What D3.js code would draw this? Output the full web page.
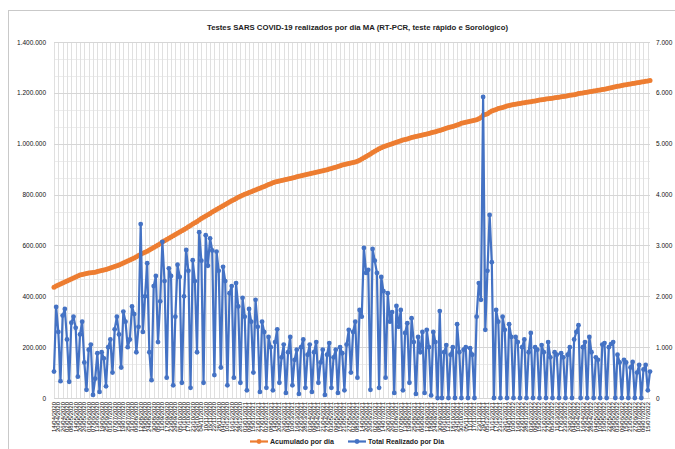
<!DOCTYPE html>
<html>
<head>
<meta charset="utf-8">
<script src="https://cdn.jsdelivr.net/npm/d3@7"></script>
<style>
  body { margin: 0; background: #fff; }
  svg { display: block; font-family: "Liberation Sans", Arial, sans-serif; }
</style>
</head>
<body>
<div id="chart"></div>
<script>
// ---- data ----
// daily tests (right axis)
var totalDia = [
  520, 1790, 1300, 330, 1620, 1750, 1150, 320, 1480, 1600,
  1380, 420, 1250, 1500, 700, 160, 950, 1050, 60, 380,
  880, 120, 900, 780, 230, 1000, 1150, 500, 1350, 1600,
  1250, 600, 1700, 1500, 1000, 1150, 1800, 1650, 900, 1400,
  3420, 1300, 2000, 2650, 900, 350, 2200, 2400, 1100, 1900,
  3070, 2300, 400, 2550, 2400, 250, 1600, 2620, 2380, 300,
  2000, 2910, 2500, 200, 2710, 2300, 900, 3260, 2700, 300,
  3200, 2600, 3140, 2900, 450, 2880, 2500, 600, 2580, 2300,
  250, 2060, 2200, 400, 2260, 1800, 300, 1970, 1600, 150,
  1750, 1500, 500, 1930, 1400, 120, 1500, 1300, 200, 1200,
  1000, 150, 1100, 1350, 300, 800, 1050, 100, 900, 1200,
  250, 750, 950, 80, 1000, 1150, 200, 850, 1050, 120,
  900, 1100, 300, 700, 950, 60, 850, 1080, 200, 800,
  950, 100, 1000, 880, 150, 1050, 1340, 500, 1300, 1500,
  400, 1730, 1600, 2950, 2460, 2520, 160, 2930, 2700, 2460,
  200, 2380, 2100, 400, 2060, 1500, 1690, 100, 1810, 1400,
  1730, 150, 1280, 1470, 300, 1570, 1100, 80, 1200, 900,
  1300, 100, 1340, 1000, 50, 1300, 1100, 0, 1710, 0,
  900, 1040, 0, 850, 1000, 0, 1450, 900, 0, 950,
  1000, 0, 980, 850, 0, 1600, 2260, 1930, 5920, 1340,
  2500, 3600, 2670, 0, 1730, 1500, 0, 1600, 1340, 0,
  1450, 1200, 0, 1200, 1100, 0, 1000, 1150, 0, 900,
  1280, 0, 1000, 950, 0, 1040, 900, 0, 1100, 800,
  0, 900, 850, 0, 880, 800, 0, 850, 1000, 0,
  1150, 1300, 1430, 0, 1000, 1100, 0, 1200, 900, 0,
  800, 750, 0, 1050, 1080, 0, 1000, 1060, 1100, 0,
  850, 700, 0, 750, 700, 0, 600, 710, 0, 500,
  650, 0, 560, 650, 150, 520
];

// cumulative tests, in thousands (left axis)
var acumuladoMil = [
  436, 440, 444, 448, 452, 456, 460, 464, 468, 472,
  476, 480, 484, 486, 488, 490, 492, 493, 494, 495,
  497, 499, 501, 503, 505, 508, 511, 514, 517, 520,
  523, 527, 531, 535, 539, 543, 547, 551, 555, 560,
  565, 569, 573, 577, 582, 587, 592, 597, 602, 607,
  613, 618, 623, 628, 633, 638, 643, 648, 653, 658,
  663, 668, 673, 678, 684, 689, 694, 700, 706, 711,
  716, 721, 726, 731, 736, 741, 746, 751, 756, 761,
  766, 771, 776, 780, 785, 789, 793, 797, 801, 804,
  808, 811, 815, 818, 822, 825, 829, 832, 836, 840,
  843, 846, 849, 851, 853, 855, 857, 859, 861, 863,
  865, 867, 870, 872, 874, 876, 878, 880, 882, 884,
  886, 888, 890, 892, 894, 896, 898, 901, 903, 905,
  907, 910, 913, 916, 918, 920, 922, 924, 926, 928,
  931, 935, 940, 945, 950, 955, 960, 965, 970, 975,
  980, 984, 988, 991, 994, 997, 1000, 1003, 1006, 1009,
  1012, 1015, 1017, 1019, 1021, 1024, 1026, 1028, 1030, 1032,
  1034, 1036, 1038, 1040, 1043, 1045, 1047, 1050, 1052, 1055,
  1058, 1061, 1064, 1066, 1068, 1071, 1074, 1077, 1080, 1082,
  1084, 1086, 1088, 1090, 1092, 1094, 1098, 1103, 1112, 1115,
  1118, 1124, 1129, 1132, 1135, 1138, 1140, 1142, 1145, 1148,
  1150, 1152, 1154, 1155, 1157, 1158, 1160, 1161, 1163, 1164,
  1165, 1167, 1168, 1170, 1172, 1173, 1174, 1176, 1177, 1178,
  1179, 1181, 1182, 1183, 1185, 1186, 1187, 1189, 1191, 1192,
  1193, 1195, 1197, 1198, 1199, 1201, 1202, 1204, 1205, 1207,
  1208, 1210, 1211, 1213, 1214, 1216, 1218, 1220, 1222, 1224,
  1226, 1227, 1229, 1231, 1232, 1234, 1235, 1237, 1238, 1240,
  1241, 1243, 1244, 1246, 1247, 1249
];

var leftTicks = [0, 200000, 400000, 600000, 800000, 1000000, 1200000, 1400000];
var rightTicks = [0, 1000, 2000, 3000, 4000, 5000, 6000, 7000];
var seriesNames = ["Acumulado por dia", "Total Realizado por Dia"];
var title = "Testes SARS COVID-19 realizados por dia MA (RT-PCR, teste rápido e Sorológico)";

// category labels: dates
var startDate = new Date(2020, 3, 14);
var stepDays = 3;
var n = Math.min(totalDia.length, acumuladoMil.length);
var fmtDate = d3.timeFormat("%d/%m/%Y");
var categories = d3.range(n).map(function(i) {
  return fmtDate(d3.timeDay.offset(startDate, i * stepDays));
});

// ---- layout ----
var svgWidth = 675, svgHeight = 449;
var plot = { left: 54, right: 650, top: 42, bottom: 398 };
var orange = "#ED7D31", blue = "#4472C4";

var svg = d3.select("#chart").append("svg")
  .attr("width", svgWidth)
  .attr("height", svgHeight);

// chart frame (continues past the window on the right/bottom)
svg.append("rect")
  .attr("x", 8.5).attr("y", 10.5)
  .attr("width", 720).attr("height", 480)
  .attr("fill", "#fff")
  .attr("stroke", "#c9c9c9");

var x = d3.scalePoint().domain(categories).range([plot.left, plot.right]);
var yLeft = d3.scaleLinear().domain([0, 1400000]).range([plot.bottom, plot.top]);
var yRight = d3.scaleLinear().domain([0, 7000]).range([plot.bottom, plot.top]);

var locale = d3.formatLocale({ decimal: ",", thousands: ".", grouping: [3], currency: ["R$", ""] });
var fmtNum = locale.format(",d");

// gridlines
var grid = svg.append("g");
var minorVals = d3.range(0, 1400001, 200000 / 3);
grid.selectAll("line.minor").data(minorVals).enter().append("line")
  .attr("x1", plot.left).attr("x2", plot.right)
  .attr("y1", function(d) { return Math.round(yLeft(d)) + 0.5; })
  .attr("y2", function(d) { return Math.round(yLeft(d)) + 0.5; })
  .attr("stroke", "#ececec").attr("stroke-width", 1);

grid.selectAll("line.v").data(categories.filter(function(d, i) { return i % 2 === 0; }))
  .enter().append("line")
  .attr("x1", function(d) { return Math.round(x(d)) + 0.5; })
  .attr("x2", function(d) { return Math.round(x(d)) + 0.5; })
  .attr("y1", plot.top).attr("y2", plot.bottom)
  .attr("stroke", "#e0e0e0").attr("stroke-width", 1);

grid.selectAll("line.major").data(leftTicks).enter().append("line")
  .attr("x1", plot.left).attr("x2", plot.right)
  .attr("y1", function(d) { return Math.round(yLeft(d)) + 0.5; })
  .attr("y2", function(d) { return Math.round(yLeft(d)) + 0.5; })
  .attr("stroke", "#d6d6d6").attr("stroke-width", 1);

// axes (labels only, like the original)
var leftAxis = d3.axisLeft(yLeft).tickValues(leftTicks).tickFormat(fmtNum).tickSize(0).tickPadding(8);
var gl = svg.append("g").attr("transform", "translate(" + plot.left + ",0)").call(leftAxis);
gl.select(".domain").remove();
gl.selectAll("text").attr("font-size", "6.5px").attr("fill", "#111").attr("font-family", "Liberation Sans, Arial");

var rightAxis = d3.axisRight(yRight).tickValues(rightTicks).tickFormat(fmtNum).tickSize(0).tickPadding(6);
var gr = svg.append("g").attr("transform", "translate(" + plot.right + ",0)").call(rightAxis);
gr.select(".domain").remove();
gr.selectAll("text").attr("font-size", "6.5px").attr("fill", "#111").attr("font-family", "Liberation Sans, Arial");

// x labels (dense rotated dates, every second category)
svg.append("g").selectAll("text")
  .data(categories.filter(function(d, i) { return i % 2 === 0; }))
  .enter().append("text")
  .attr("transform", function(d) { return "translate(" + (x(d) + 2) + "," + 402 + ") rotate(-90)"; })
  .attr("text-anchor", "end")
  .attr("font-size", "6px")
  .attr("fill", "#000")
  .text(function(d) { return d; });

// cumulative series (left axis)
var lineAcum = d3.line()
  .x(function(d, i) { return x(categories[i]); })
  .y(function(d) { return yLeft(d * 1000); });

svg.append("path").datum(acumuladoMil.slice(0, n))
  .attr("d", lineAcum)
  .attr("fill", "none").attr("stroke", orange).attr("stroke-width", 2.4);

svg.append("g").selectAll("circle").data(acumuladoMil.slice(0, n)).enter().append("circle")
  .attr("cx", function(d, i) { return x(categories[i]); })
  .attr("cy", function(d) { return yLeft(d * 1000); })
  .attr("r", 2.5).attr("fill", orange);

// daily series (right axis)
var lineDia = d3.line()
  .x(function(d, i) { return x(categories[i]); })
  .y(function(d) { return yRight(d); });

svg.append("path").datum(totalDia.slice(0, n))
  .attr("d", lineDia)
  .attr("fill", "none").attr("stroke", blue).attr("stroke-width", 2.2)
  .attr("stroke-linejoin", "round");

svg.append("g").selectAll("circle").data(totalDia.slice(0, n)).enter().append("circle")
  .attr("cx", function(d, i) { return x(categories[i]); })
  .attr("cy", function(d) { return yRight(d); })
  .attr("r", 2.4).attr("fill", blue);

// title
svg.append("text")
  .attr("x", 207).attr("y", 30)
  .attr("font-size", "7.5px").attr("font-weight", "bold").attr("fill", "#222")
  .attr("textLength", 301).attr("lengthAdjust", "spacingAndGlyphs")
  .text(title);

// legend
var legend = svg.append("g");
var legendItems = [
  { name: seriesNames[0], color: orange, x: 250, w: 64 },
  { name: seriesNames[1], color: blue, x: 348, w: 76 }
];
legendItems.forEach(function(item) {
  legend.append("line")
    .attr("x1", item.x).attr("x2", item.x + 18)
    .attr("y1", 441.5).attr("y2", 441.5)
    .attr("stroke", item.color).attr("stroke-width", 2.2);
  legend.append("circle")
    .attr("cx", item.x + 9).attr("cy", 441.5).attr("r", 2.4).attr("fill", item.color);
  legend.append("text")
    .attr("x", item.x + 20).attr("y", 444)
    .attr("font-size", "7px").attr("font-weight", "bold").attr("fill", "#222")
    .attr("textLength", item.w).attr("lengthAdjust", "spacingAndGlyphs")
    .text(item.name);
});
</script>
</body>
</html>
